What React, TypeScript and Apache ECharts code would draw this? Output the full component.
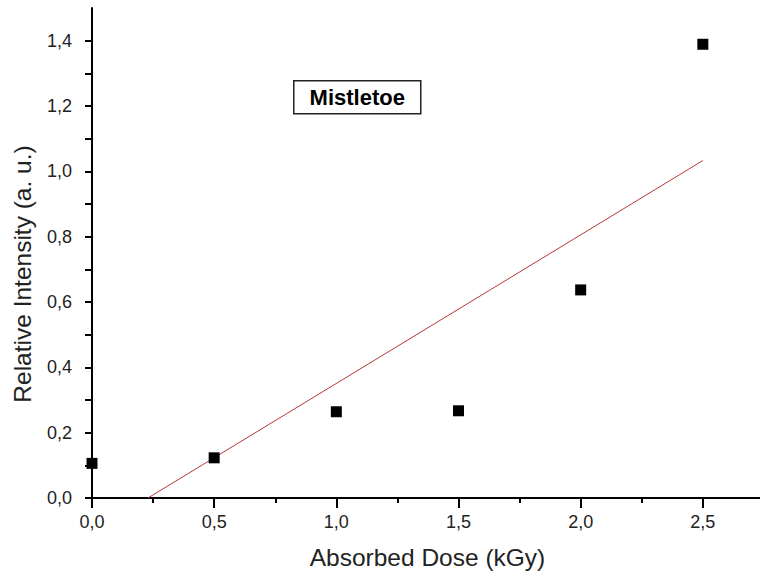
import React, { useEffect, useRef } from "react";
import * as echarts from "echarts";

const doseKGy = [0, 0.5, 1.0, 1.5, 2.0, 2.5];
const relativeIntensity = [0.106, 0.123, 0.264, 0.267, 0.637, 1.389];
const fitX = [0.229, 2.5];
const fitY = [0, 1.033];
const xTickLabels = ["0,0", "0,5", "1,0", "1,5", "2,0", "2,5"];
const yTickLabels = ["0,0", "0,2", "0,4", "0,6", "0,8", "1,0", "1,2", "1,4"];

const FONT = "'Liberation Sans', Arial, sans-serif";

export default function App() {
  const ref = useRef<HTMLDivElement>(null);
  useEffect(() => {
    if (!ref.current) return;
    const chart = echarts.init(ref.current, null, { renderer: "svg" });
    const xFmt = (v: number) => {
      const i = Math.round(v / 0.5);
      if (Math.abs(v - i * 0.5) > 1e-6) return "";
      return xTickLabels[i] ?? "";
    };
    const yFmt = (v: number) => {
      const i = Math.round(v / 0.2);
      if (Math.abs(v - i * 0.2) > 1e-6) return "";
      return yTickLabels[i] ?? "";
    };
    chart.setOption({
      animation: false,
      backgroundColor: "#ffffff",
      textStyle: { fontFamily: FONT },
      grid: { left: 92, right: 5, top: 8, bottom: 85, containLabel: false },
      xAxis: {
        type: "value",
        min: 0,
        max: 3.0,
        interval: 0.5,
        name: "Absorbed Dose (kGy)",
        nameLocation: "middle",
        nameGap: 47,
        nameTextStyle: { fontSize: 24.5, color: "#222", fontFamily: FONT, padding: [0, 62, 0, 0] },
        axisLine: { show: true, onZero: false, lineStyle: { color: "#000", width: 2 } },
        axisTick: { show: true, inside: false, length: 10, lineStyle: { color: "#000", width: 2 } },
        minorTick: { show: true, splitNumber: 2, length: 5, lineStyle: { color: "#000", width: 2 } },
        splitLine: { show: false },
        minorSplitLine: { show: false },
        axisLabel: { fontSize: 18, color: "#222", margin: 15, formatter: xFmt, fontFamily: FONT },
      },
      yAxis: {
        type: "value",
        min: 0,
        max: 1.5,
        interval: 0.1,
        name: "Relative Intensity (a. u.)",
        nameLocation: "middle",
        nameGap: 57,
        nameRotate: 90,
        nameTextStyle: { fontSize: 24.5, color: "#222", fontFamily: FONT, padding: [0, 42, 0, 0] },
        axisLine: { show: true, onZero: false, lineStyle: { color: "#000", width: 2 } },
        axisTick: { show: true, inside: false, length: 7, lineStyle: { color: "#000", width: 2 } },
        splitLine: { show: false },
        axisLabel: {
          fontSize: 18,
          color: "#222",
          margin: 20,
          formatter: yFmt,
          fontFamily: FONT,
          showMaxLabel: false,
        },
      },
      graphic: [
        {
          type: "group",
          left: 293,
          top: 80,
          children: [
            {
              type: "rect",
              shape: { x: 0, y: 0, width: 127, height: 33 },
              style: { fill: "#fff", stroke: "#222", lineWidth: 1.5 },
            },
            {
              type: "text",
              x: 63.5,
              y: 17,
              style: {
                text: "Mistletoe",
                font: `bold 22px ${FONT}`,
                fill: "#000",
                align: "center",
                verticalAlign: "middle",
              },
            },
          ],
        },
      ],
      series: [
        {
          type: "line",
          name: "Linear Fit",
          data: fitX.map((x, i) => [x, fitY[i]]),
          symbol: "none",
          lineStyle: { color: "#b83838", width: 1 },
          z: 2,
        },
        {
          type: "scatter",
          name: "Mistletoe",
          data: doseKGy.map((x, i) => [x, relativeIntensity[i]]),
          symbol: "rect",
          symbolSize: 11,
          itemStyle: { color: "#000", opacity: 1 },
          z: 3,
        },
      ],
    });
    return () => chart.dispose();
  }, []);
  return (
    <div style={{ position: "fixed", left: 0, top: 0, width: 760, height: 583, overflow: "hidden" }}>
      <div ref={ref} style={{ width: 830, height: 583 }} />
    </div>
  );
}
